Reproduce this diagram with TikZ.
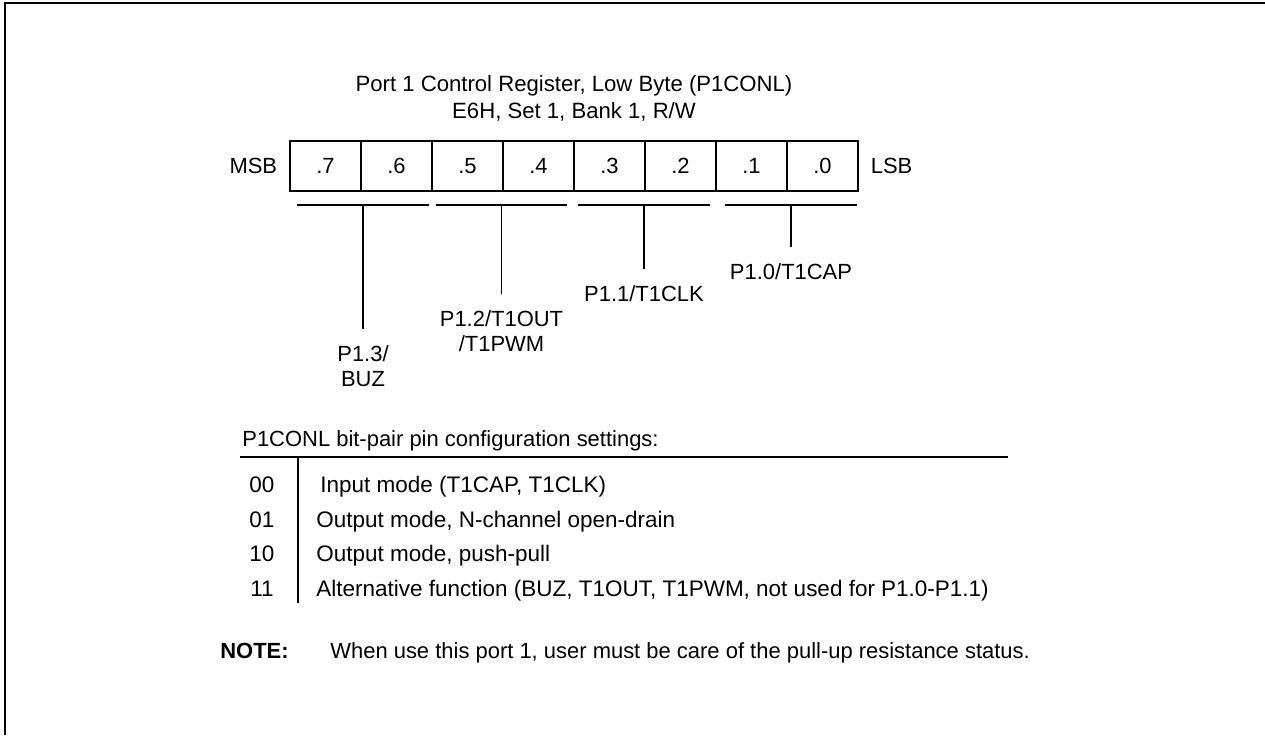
\documentclass[tikz,border=0pt]{standalone}
\usepackage{fontspec}
\setmainfont{Liberation Sans}
\usetikzlibrary{positioning}

\begin{document}
\begin{tikzpicture}[
  x=0.02cm, y=-0.02cm,
  every node/.style={font=\fontsize{12.5}{15}\selectfont},
  txt/.style={inner sep=0pt},
  cell/.style={draw,line width=0.6pt,minimum width=1.42cm,minimum height=1cm,inner sep=0pt},
  brk/.style={line width=0.8pt},
  pinlbl/.style={align=center,inner xsep=0pt,inner ysep=9pt,font=\fontsize{12.5}{14.5}\selectfont},
  row/.style={inner sep=0pt,font=\fontsize{12.8}{15}\selectfont},
  rule/.style={line width=1.2pt}
]
  \useasboundingbox (0,0) rectangle (1265,735);
  \draw[line width=1.5pt] (1265,3) -- (5,3) -- (5,735);

  \node[txt,align=center,font=\fontsize{12.6}{15.3}\selectfont] (title) at (574,98.5)
    {Port 1 Control Register, Low Byte (P1CONL)\\E6H, Set 1, Bank 1, R/W};

  \foreach \b in {0,...,7}
    \node[cell] (b\b) at ({822.5-71*\b},166) {.\b};
  \node[txt, left=0.24cm of b7] (msb) {MSB};
  \node[txt, right=0.24cm of b0] (lsb) {LSB};

  \foreach \n/\l/\r/\m in {3/297/429/363, 2/436/567/501.5, 1/578/710/644, 0/725/857/791} {
    \draw[brk] (\l,205) -- (\r,205);
    \coordinate (s\n) at (\m,205);
  }

  \node[pinlbl, anchor=north] (p13) at (363,329) {P1.3/\\BUZ};
  \node[pinlbl, anchor=north] (p12) at (501.5,294) {P1.2/T1OUT\\/T1PWM};
  \node[pinlbl, anchor=north] (p11) at (644,269) {P1.1/T1CLK};
  \node[pinlbl, anchor=north] (p10) at (791,247) {P1.0/T1CAP};

  \draw[brk] (s3) -- (p13);
  \draw[brk] (s2) -- (p12);
  \draw[brk] (s1) -- (p11);
  \draw[brk] (s0) -- (p10);

  \node[txt, anchor=base west] (cfg) at (242,446) {P1CONL bit-pair pin configuration settings:};
  \draw[rule] (240,457) -- (1008,457);
  \draw[line width=0.8pt] (298,457) -- (298,603);

  \foreach \c/\y/\x/\d in {00/492/320/{Input mode (T1CAP, T1CLK)},
      01/527/316/{Output mode, N-channel open-drain},
      10/561/316/{Output mode, push-pull},
      11/596/316/{Alternative function (BUZ, T1OUT, T1PWM, not used for P1.0-P1.1)}} {
    \node[row, anchor=base] (c\c) at (262,\y) {\c};
    \node[row, anchor=base west] (d\c) at (\x,\y) {\d};
  }

  \node[txt, anchor=base west, font=\fontsize{12.5}{15}\selectfont\bfseries] (note) at (220,658) {NOTE:};
  \node[txt, anchor=base west] (notetext) at (330,658)
    {When use this port 1, user must be care of the pull-up resistance status.};
\end{tikzpicture}
\end{document}
